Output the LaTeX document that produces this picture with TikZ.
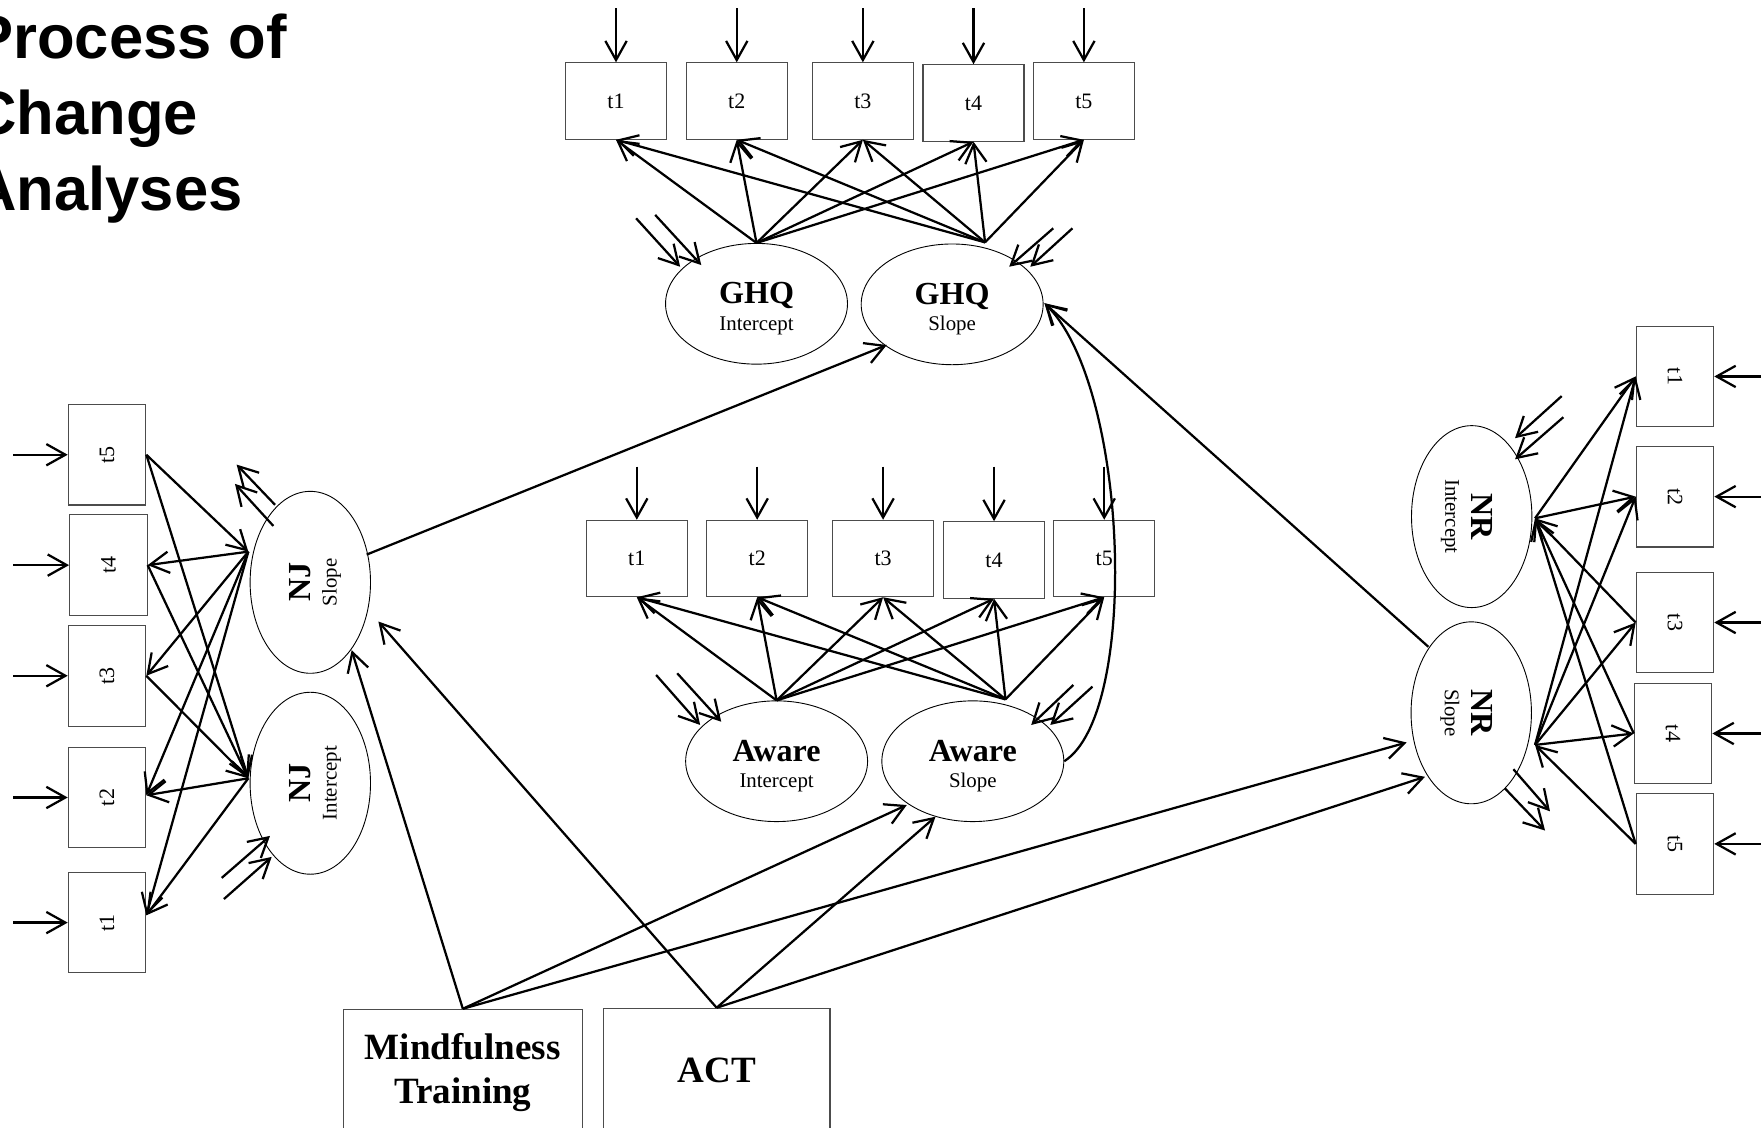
\documentclass[tikz,border=0pt]{standalone}
\usepackage{fontspec}
\setmainfont{Liberation Serif}
\newfontfamily\titlefont{Liberation Sans}
\usepackage{graphicx}
\usetikzlibrary{arrows.meta,calc,shapes.geometric}
\begin{document}
\begin{tikzpicture}[x=0.5pt,y=-0.5pt,
  conn/.style={line width=1pt, -{Straight Barb[length=8.5pt,width=9.5pt]}},
  obs/.style={draw=black!70, line width=0.5pt, inner sep=0pt, minimum width=45pt, minimum height=34pt, font=\fontsize{9.8}{11}\selectfont},
  vobs/.style={obs, minimum width=34.5pt, minimum height=44.8pt},
  lat/.style={ellipse, draw, line width=0.4pt, inner sep=0pt, minimum width=81pt, minimum height=53.75pt},
  vlat/.style={lat, minimum width=53.6pt, minimum height=81pt},
  bigl/.style={inner sep=0pt, anchor=base, font=\fontsize{14.3}{16}\selectfont\bfseries},
  smalll/.style={inner sep=0pt, anchor=base, font=\fontsize{9.3}{11}\selectfont},
  grp/.style={draw=black!70, line width=0.5pt, inner sep=0pt, align=center, font=\fontsize{16.5}{19.2}\selectfont\bfseries},
  ttl/.style={inner sep=0pt, anchor=base west, font=\titlefont\fontsize{27.4}{33}\selectfont\bfseries}
]
\useasboundingbox (0,0) rectangle (1568,1004);
\clip (0,0) rectangle (1568,1004);

% title
\node[ttl] (title1) at (-25,52) {Process of};
\node[ttl] (title2) at (-25,120) {Change};
\node[ttl] (title3) at (-25,187) {Analyses};

% ---------------- GHQ ----------------
\foreach \n/\px/\py in {1/548.5/90, 2/656/90, 3/768.3/90, 4/866.8/91.7, 5/965.1/90}{
  \node[obs] (gt\n) at (\px,\py) {t\n};
  \coordinate (ge\n) at (\px,7.4);
  \draw[conn] (ge\n) -- (gt\n.north);
}
\node[lat] (gi) at (673.6,270.5) {};
\node[lat] (gs) at (847.8,271) {};
\node[bigl] (gi-a) at (gi) {GHQ};
\node[smalll] (gi-b) at ($(gi)+(0,23.5)$) {Intercept};
\node[bigl] (gs-a) at (gs) {GHQ};
\node[smalll] (gs-b) at ($(gs)+(0,23.5)$) {Slope};
\coordinate (gio) at (gi.north);
\coordinate (gso) at ($(gs)+(29.3,-55.2)$);
\foreach \n in {1,...,5}{
  \draw[conn] (gio) -- (gt\n.south);
  \draw[conn] (gso) -- (gt\n.south);
}
\coordinate (gi-r1) at ($(gi)+(-68,-33)$);
\coordinate (gi-r2) at ($(gi)+(-49.2,-34.5)$);
\coordinate (gi-f1) at (566.4,194.4);
\coordinate (gi-f2) at (583.4,191.4);
\draw[conn] (gi-f1) -- (gi-r1);
\draw[conn] (gi-f2) -- (gi-r2);
\coordinate (gs-r1) at ($(gs)+(50.8,-33.5)$);
\coordinate (gs-r2) at ($(gs)+(69.6,-33.5)$);
\coordinate (gs-f1) at (937.8,203.3);
\coordinate (gs-f2) at (954.9,203.3);
\draw[conn] (gs-f1) -- (gs-r1);
\draw[conn] (gs-f2) -- (gs-r2);

% ---------------- Aware ----------------
\foreach \n/\px/\py in {1/567/497.3, 2/674.2/497.3, 3/786.3/497.3, 4/885.1/498.6, 5/983.2/497.3}{
  \node[obs] (at\n) at (\px,\py) {t\n};
  \coordinate (ae\n) at (\px,415.5);
  \draw[conn] (ae\n) -- (at\n.north);
}
\node[lat] (ai) at (691.5,677.8) {};
\node[lat] (as) at (866.2,677.8) {};
\node[bigl] (ai-a) at (ai) {Aware};
\node[smalll] (ai-b) at ($(ai)+(0,23.5)$) {Intercept};
\node[bigl] (as-a) at (as) {Aware};
\node[smalll] (as-b) at ($(as)+(0,23.5)$) {Slope};
\coordinate (aio) at (ai.north);
\coordinate (aso) at ($(as)+(29.1,-55.1)$);
\foreach \n in {1,...,5}{
  \draw[conn] (aio) -- (at\n.south);
  \draw[conn] (aso) -- (at\n.south);
}
\coordinate (ai-r1) at ($(ai)+(-68.1,-32.3)$);
\coordinate (ai-r2) at ($(ai)+(-49.3,-35.2)$);
\coordinate (ai-f1) at (584.2,601);
\coordinate (ai-f2) at (603,599.5);
\draw[conn] (ai-f1) -- (ai-r1);
\draw[conn] (ai-f2) -- (ai-r2);
\coordinate (as-r1) at ($(as)+(52,-32.3)$);
\coordinate (as-r2) at ($(as)+(69,-32.3)$);
\coordinate (as-f1) at (955.7,609.9);
\coordinate (as-f2) at (972.7,611.4);
\draw[conn] (as-f1) -- (as-r1);
\draw[conn] (as-f2) -- (as-r2);

% ---------------- NJ ----------------
\foreach \n/\px/\py in {5/95.3/404.9, 4/96.5/503.2, 3/95.3/601.7, 2/95.3/710.1, 1/95.3/821.5}{
  \node[vobs] (jt\n) at (\px,\py) {\rotatebox{90}{t\n}};
  \coordinate (je\n) at (11.9,\py);
  \draw[conn] (je\n) -- (jt\n.west);
}
\node[vlat] (js) at (276.3,518.5) {};
\node[vlat] (ji) at (276.3,697.4) {};
\node[bigl, rotate=90] (js-a) at (js) {NJ};
\node[smalll, rotate=90] (js-b) at ($(js)+(23.5,0)$) {Slope};
\node[bigl, rotate=90] (ji-a) at (ji) {NJ};
\node[smalll, rotate=90] (ji-b) at ($(ji)+(23.5,0)$) {Intercept};
\coordinate (jso) at ($(js)+(-55.2,-27.3)$);
\coordinate (jio) at ($(ji)+(-55.2,-4.4)$);
\coordinate (ja1) at ($(jt1.east)+(0,-6.5)$);
\coordinate (ja2) at ($(jt2.east)+(0,-2)$);
\draw[conn] (jt5.east) -- (jso);
\draw[conn] (jt5.east) -- (jio);
\draw[conn] (jso) -- (jt4.east);
\draw[conn] (jt4.east) -- (jio);
\draw[conn] (jso) -- (jt3.east);
\draw[conn] (jt3.east) -- (jio);
\draw[conn] (jso) -- (ja2);
\draw[conn] (jio) -- (ja2);
\draw[conn] (jso) -- (ja1);
\draw[conn] (jio) -- (ja1);
\coordinate (js-r1) at ($(js)+(-31.4,-69)$);
\coordinate (js-r2) at ($(js)+(-32.9,-50.2)$);
\coordinate (js-f1) at (210.7,413.7);
\coordinate (js-f2) at (209.2,430.8);
\draw[conn] (js-r1) -- (js-f1);
\draw[conn] (js-r2) -- (js-f2);
\coordinate (ji-r1) at ($(ji)+(-35.9,46.9)$);
\coordinate (ji-r2) at ($(ji)+(-34.4,65.6)$);
\coordinate (ji-f1) at (197.4,781.7);
\coordinate (ji-f2) at (199.4,800.5);
\draw[conn] (ji-f1) -- (ji-r1);
\draw[conn] (ji-f2) -- (ji-r2);

% ---------------- NR ----------------
\foreach \n/\px/\py in {1/1491.4/335.2, 2/1491.4/442.2, 3/1491.4/554.3, 4/1489.7/653.1, 5/1491.4/751.4}{
  \node[vobs] (rt\n) at (\px,\py) {\rotatebox{-90}{t\n}};
  \coordinate (re\n) at (1575,\py);
  \draw[conn] (re\n) -- (rt\n.east);
}
\node[vlat] (ri) at (1310.4,460) {};
\node[vlat] (rs) at (1310,634.7) {};
\node[bigl, rotate=-90] (ri-a) at (ri) {NR};
\node[smalll, rotate=-90] (ri-b) at ($(ri)+(-23.5,0)$) {Intercept};
\node[bigl, rotate=-90] (rs-a) at (rs) {NR};
\node[smalll, rotate=-90] (rs-b) at ($(rs)+(-23.5,0)$) {Slope};
\coordinate (rio) at ($(ri)+(56.4,1.5)$);
\coordinate (rso) at ($(rs)+(56.8,28.6)$);
\draw[conn] (rio) -- (rt1.west);
\draw[conn] (rio) -- (rt2.west);
\draw[conn] (rt3.west) -- (rio);
\draw[conn] (rt4.west) -- (rio);
\draw[conn] (rt5.west) -- (rio);
\foreach \n in {1,...,4}{
  \draw[conn] (rso) -- (rt\n.west);
}
\draw[conn] (rt5.west) -- (rso);
\coordinate (ri-r1) at ($(ri)+(38.6,-69.8)$);
\coordinate (ri-r2) at ($(ri)+(38.6,-51)$);
\coordinate (ri-f1) at (1390.5,352.7);
\coordinate (ri-f2) at (1392,371.5);
\draw[conn] (ri-f1) -- (ri-r1);
\draw[conn] (ri-f2) -- (ri-r2);
\coordinate (rs-r1) at ($(rs)+(37.5,50.2)$);
\coordinate (rs-r2) at ($(rs)+(30,67.3)$);
\coordinate (rs-f1) at (1380.1,722.4);
\coordinate (rs-f2) at (1375.7,739.5);
\draw[conn] (rs-r1) -- (rs-f1);
\draw[conn] (rs-r2) -- (rs-f2);

% ---------------- predictors ----------------
\node[grp, minimum width=106.4pt, minimum height=56.3pt] (mind) at (412.1,955) {Mindfulness\\Training};
\node[grp, minimum width=100.9pt, minimum height=54.9pt] (act) at (638.1,952.7) {ACT};

\coordinate (js-m) at ($(js)+(36.8,60.4)$);
\coordinate (js-c) at ($(js)+(60.6,34.9)$);
\coordinate (as-m) at ($(as)+(-58.8,39)$);
\coordinate (as-c) at ($(as)+(-33.2,49.4)$);
\coordinate (rs-m) at ($(rs)+(-57.5,26.4)$);
\coordinate (rs-c) at ($(rs)+(-41.2,57)$);
\coordinate (rs-g) at ($(rs)+(-38.2,-58.8)$);
\coordinate (js-g) at ($(js)+(50.2,-24.7)$);
\coordinate (gs-j) at ($(gs)+(-58.2,36.2)$);
\coordinate (gs-e) at ($(gs)+(82.2,-1)$);
\draw[conn] (mind.north) -- (js-m);
\draw[conn] (act.north) -- (js-c);
\draw[conn] (mind.north) -- (as-m);
\draw[conn] (act.north) -- (as-c);
\draw[conn] (mind.north) -- (rs-m);
\draw[conn] (act.north) -- (rs-c);
\draw[conn] (js-g) -- (gs-j);
\draw[conn] (rs-g) -- (gs-e);
\draw[conn] (as.east) .. controls (1015,635) and (1005,344) .. (gs-e);
\end{tikzpicture}
\end{document}
